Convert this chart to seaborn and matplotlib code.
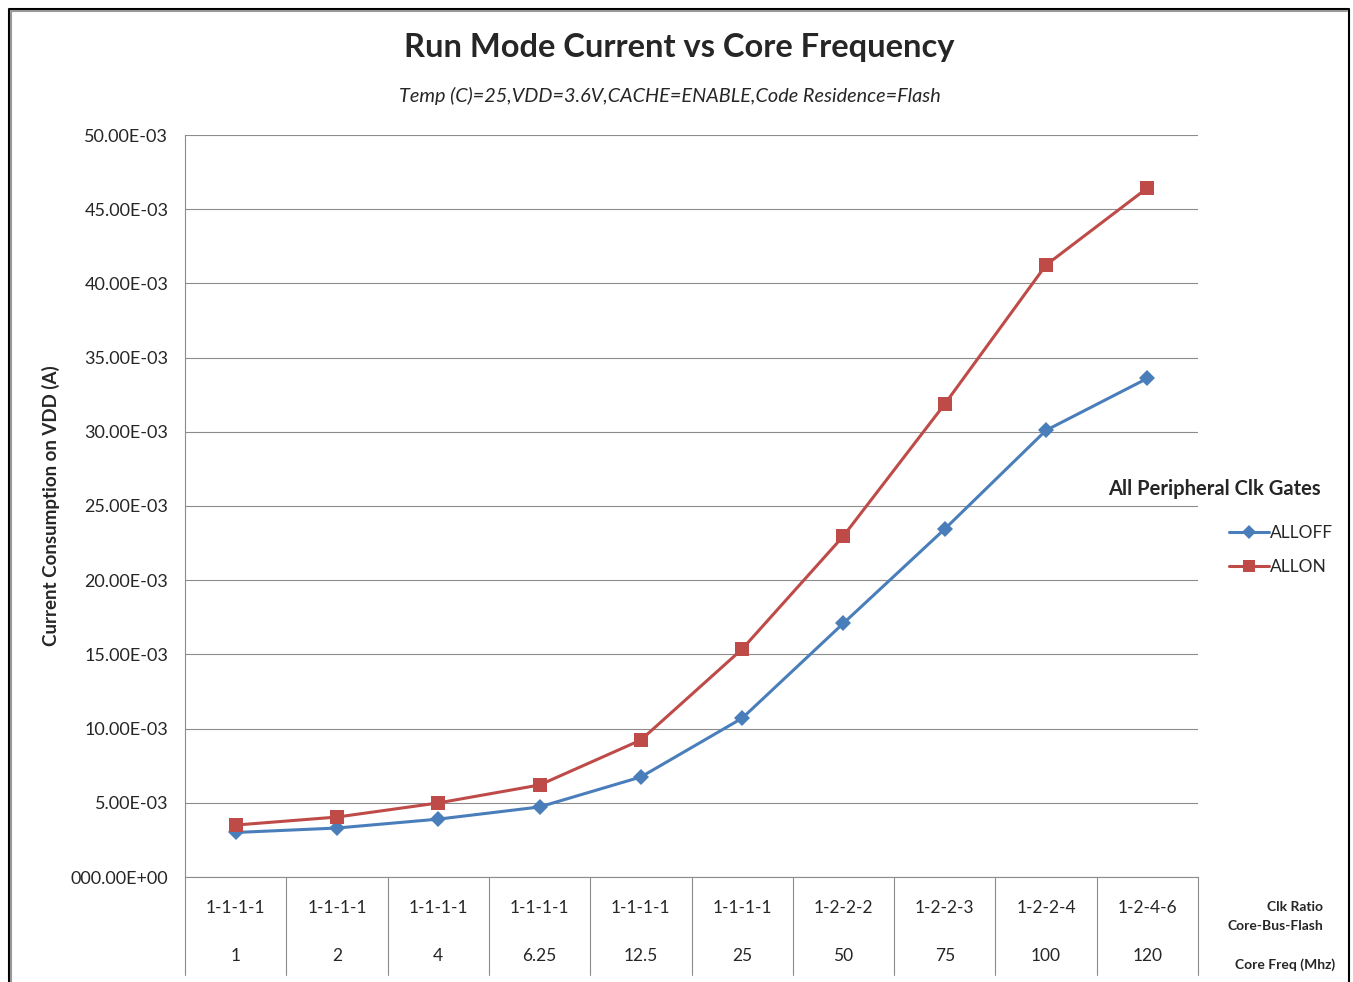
import pandas as pd
import seaborn as sns
import matplotlib.pyplot as plt
from matplotlib.lines import Line2D

# chart data
clk_ratio = ["1-1-1-1", "1-1-1-1", "1-1-1-1", "1-1-1-1", "1-1-1-1",
             "1-1-1-1", "1-2-2-2", "1-2-2-3", "1-2-2-4", "1-2-4-6"]
core_freq = ["1", "2", "4", "6.25", "12.5", "25", "50", "75", "100", "120"]
alloff = [3.0e-3, 3.3e-3, 3.9e-3, 4.72e-3, 6.74e-3, 10.7e-3, 17.1e-3, 23.45e-3, 30.1e-3, 33.6e-3]
allon = [3.5e-3, 4.04e-3, 4.99e-3, 6.2e-3, 9.23e-3, 15.36e-3, 22.98e-3, 31.87e-3, 41.24e-3, 46.43e-3]
ytick_vals = [0, 5e-3, 10e-3, 15e-3, 20e-3, 25e-3, 30e-3, 35e-3, 40e-3, 45e-3, 50e-3]
ytick_labels = ["000.00E+00", "5.00E-03", "10.00E-03", "15.00E-03", "20.00E-03", "25.00E-03",
                "30.00E-03", "35.00E-03", "40.00E-03", "45.00E-03", "50.00E-03"]

df = pd.DataFrame({
    "pos": list(range(len(core_freq))) * 2,
    "current": alloff + allon,
    "series": ["ALLOFF"] * len(alloff) + ["ALLON"] * len(allon),
})

sns.set_style("white")
plt.rcParams['font.family'] = ['Lato', 'DejaVu Sans']

blue = "#4A7EBB"
red = "#BE4B48"
grid_c = "#8c8c8c"

fig = plt.figure(figsize=(13.53, 9.82), dpi=100)
ax = fig.add_axes([185 / 1353, 1 - 877 / 982, (1198 - 185) / 1353, (877 - 135) / 982])

sns.lineplot(data=df, x="pos", y="current", hue="series", style="series",
             palette={"ALLOFF": blue, "ALLON": red},
             markers={"ALLOFF": "D", "ALLON": "s"}, dashes=False,
             markersize=8, markeredgewidth=0, linewidth=2.2, legend=False, ax=ax)
# red square a bit bigger
for ln in ax.get_lines():
    if ln.get_marker() == "s":
        ln.set_markersize(10)
    ln.set_clip_on(False)

ax.set_xlim(-0.5, len(core_freq) - 0.5)
ax.set_ylim(0, 50e-3)
ax.set_yticks(ytick_vals)
ax.set_yticklabels(ytick_labels, fontsize=13)
ax.set_xticks([])
ax.set_xlabel("")
ax.set_ylabel("Current Consumption on VDD (A)", fontsize=13.5, fontweight="bold", labelpad=8)
ax.tick_params(axis="y", length=0, pad=12)
ax.grid(axis="y", color=grid_c, linewidth=0.8)
ax.set_axisbelow(True)
for s in ["top", "right"]:
    ax.spines[s].set_visible(False)
for s in ["left", "bottom"]:
    ax.spines[s].set_color(grid_c)
    ax.spines[s].set_linewidth(0.8)

# category table under the axis
trans = ax.get_xaxis_transform()
for i in range(len(core_freq) + 1):
    ax.plot([i - 0.5, i - 0.5], [0, -0.132], transform=trans, color=grid_c,
            linewidth=0.8, clip_on=False)
for i in range(len(core_freq)):
    ax.text(i, -0.042, clk_ratio[i], transform=trans, ha="center", va="center", fontsize=12.5)
    ax.text(i, -0.107, core_freq[i], transform=trans, ha="center", va="center", fontsize=12.5)

fig.text(1323 / 1353, 1 - 907 / 982, "Clk Ratio", ha="right", va="center", fontsize=10, fontweight="bold")
fig.text(1323 / 1353, 1 - 926 / 982, "Core-Bus-Flash", ha="right", va="center", fontsize=10, fontweight="bold")
fig.text(1335 / 1353, 1 - 965 / 982, "Core Freq (Mhz)", ha="right", va="center", fontsize=10, fontweight="bold")

# titles
fig.text(679 / 1353, 1 - 48 / 982, "Run Mode Current vs Core Frequency", ha="center", va="center",
         fontsize=23.5, fontweight="bold")
fig.text(670 / 1353, 1 - 96 / 982, "Temp (C)=25,VDD=3.6V,CACHE=ENABLE,Code Residence=Flash",
         ha="center", va="center", fontsize=14.3, style="italic")

# legend
fig.text(1214 / 1353, 1 - 489 / 982, "All Peripheral Clk Gates", ha="center", va="center",
         fontsize=14.5, fontweight="bold")
handles = [Line2D([], [], color=blue, marker="D", markersize=7, linewidth=2.2, markeredgewidth=0),
           Line2D([], [], color=red, marker="s", markersize=9, linewidth=2.2, markeredgewidth=0)]
fig.legend(handles, ["ALLOFF", "ALLON"], loc="upper left",
           bbox_to_anchor=(1213 / 1353, 1 - 509 / 982), frameon=False, fontsize=12.5,
           handlelength=2.3, handletextpad=0.1, labelspacing=1.05)

# outer frame
fig.add_artist(Line2D([9 / 1353, 9 / 1353, 1349 / 1353, 1349 / 1353],
                      [0, 1 - 9 / 982, 1 - 9 / 982, 0], transform=fig.transFigure,
                      color="black", linewidth=1.5))
fig.add_artist(Line2D([11 / 1353, 11 / 1353, 1347 / 1353],
                      [0, 1 - 11 / 982, 1 - 11 / 982], transform=fig.transFigure,
                      color="#999999", linewidth=1.5))

fig.savefig("out.png", dpi=100)
